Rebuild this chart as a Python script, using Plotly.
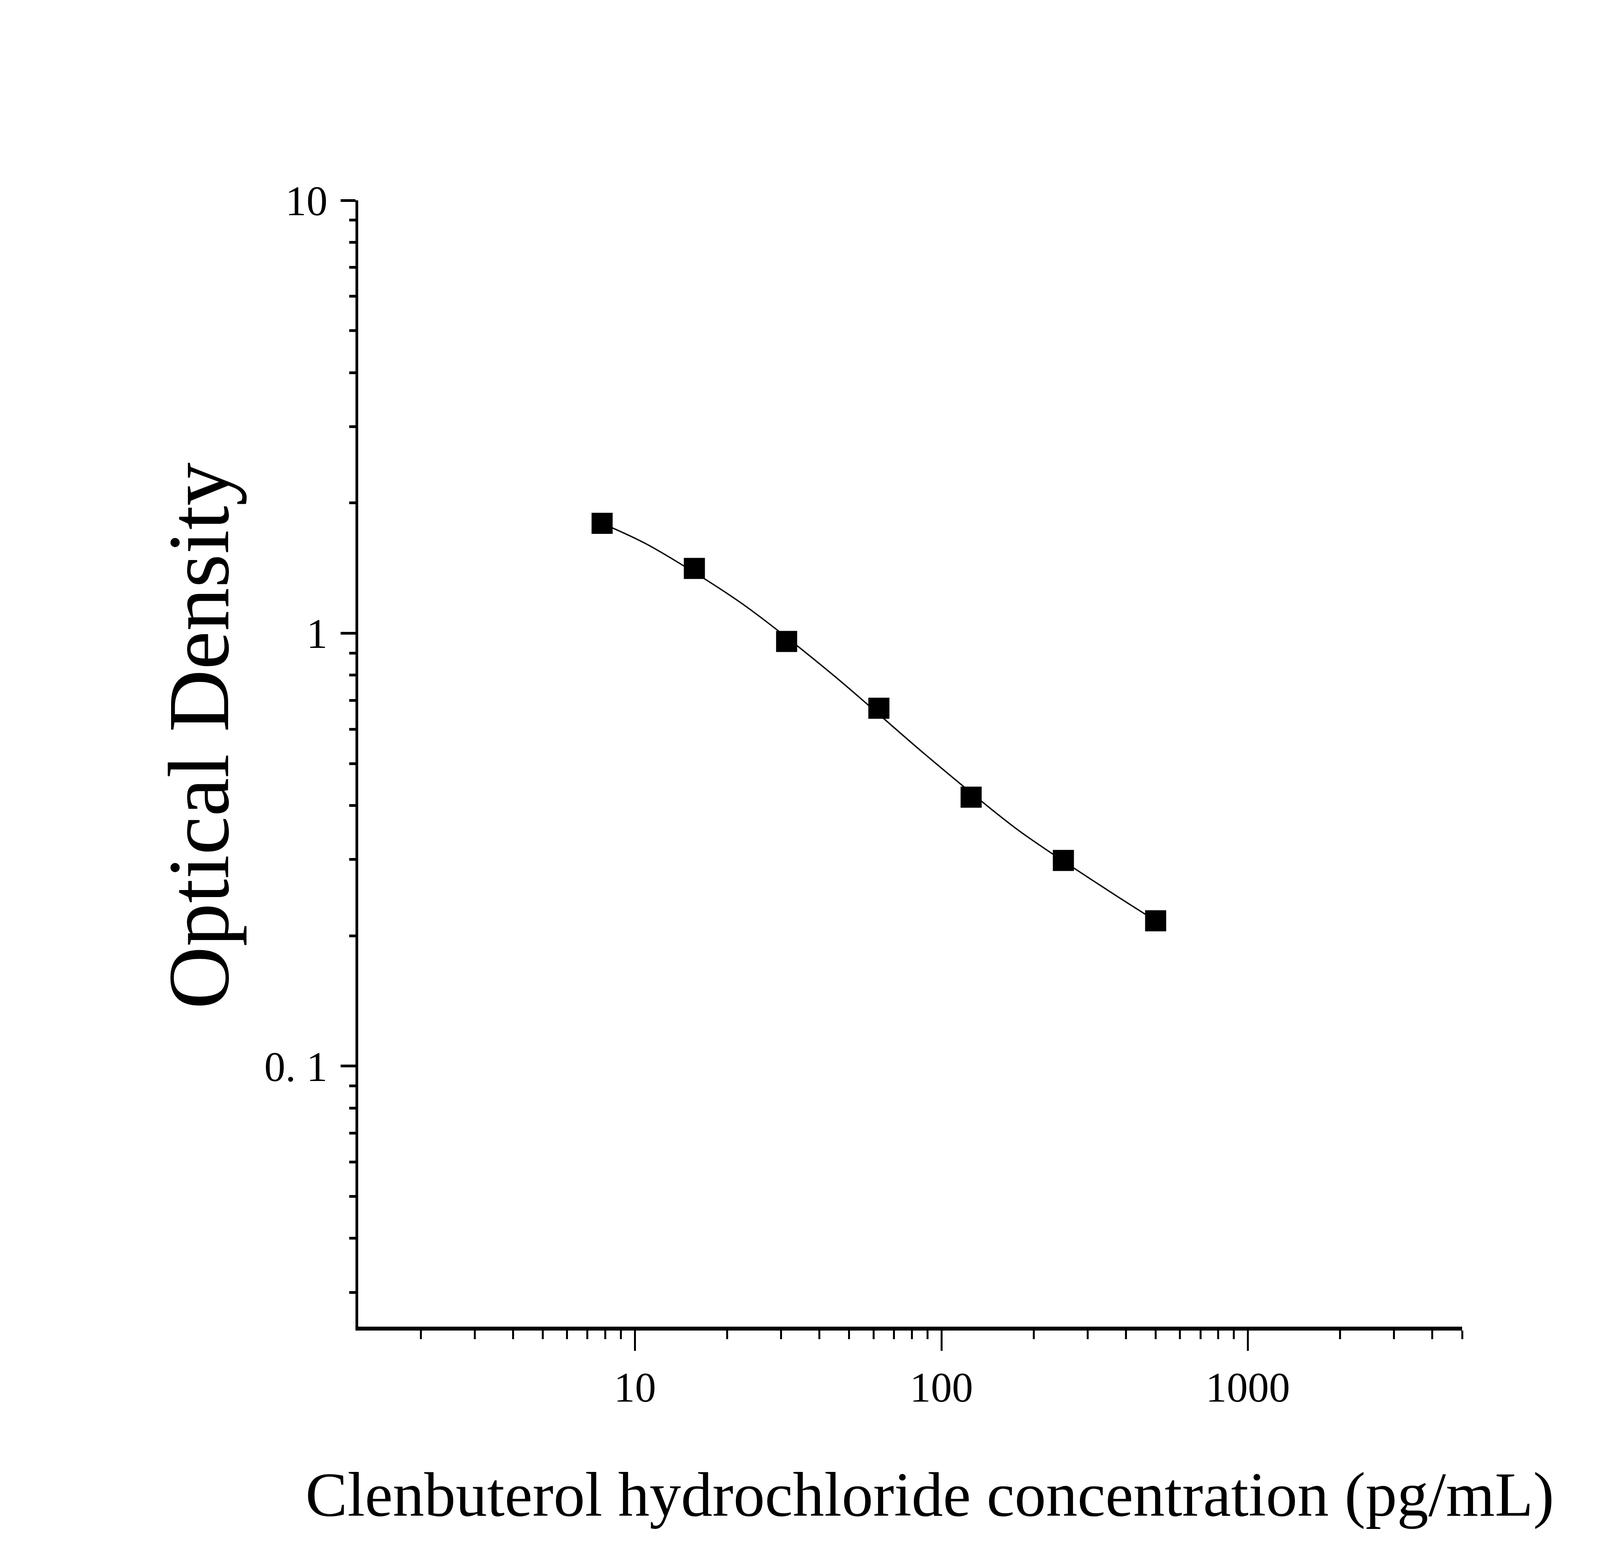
import math

import plotly.graph_objects as go

# ── Data ──────────────────────────────────────────────────────────────────
# standards (markers)
concentration = [7.8125, 15.625, 31.25, 62.5, 125, 250, 500]
optical_density = [1.794, 1.411, 0.957, 0.671, 0.418, 0.2985, 0.2166]

# fitted curve (ends + points between standards)
curve_conc = [7.8125, 11.05, 22.1, 44.2, 88.4, 176.8, 353.6, 500]
curve_od = [1.794, 1.599, 1.177, 0.802, 0.525, 0.352, 0.2532, 0.2166]

x_tickvals = [10, 100, 1000]
x_ticktext = ["10", "100", "1000"]
y_tickvals = [0.1, 1, 10]
y_ticktext = ["0. 1", "1", "10"]

x_title = "Clenbuterol hydrochloride concentration (pg/mL)"
y_title = "Optical Density"

FONT = "Liberation Serif, Times New Roman, serif"

# the browser viewport is capped at 4096 px wide, so the page is laid out
# for 4096 x 4015 with the reference proportions kept
W, H = 4096, 4015

fig = go.Figure()

# fitted curve
fig.add_trace(
    go.Scatter(
        x=curve_conc, y=curve_od,
        mode="lines",
        line=dict(color="black", width=3.5, shape="spline", smoothing=0.8),
        hoverinfo="skip",
        showlegend=False,
    )
)

# standards
fig.add_trace(
    go.Scatter(
        x=concentration, y=optical_density,
        mode="markers",
        marker=dict(symbol="square", size=54, color="black"),
        showlegend=False,
    )
)

axis_common = dict(
    type="log",
    showgrid=False,
    zeroline=False,
    showline=True,
    linecolor="black",
    ticks="outside",
    tickcolor="black",
    tickmode="array",
    automargin=False,
    tickfont=dict(family=FONT, size=108, color="black"),
)

fig.update_xaxes(
    **axis_common,
    range=[math.log10(1.25), math.log10(5000)],
    tickvals=x_tickvals, ticktext=x_ticktext,
    linewidth=10, ticklen=52, tickwidth=5,
    minor=dict(dtick="D1", ticks="outside", ticklen=22, tickwidth=5,
               tickcolor="black", showgrid=False),
    ticklabelstandoff=0,
)
fig.update_yaxes(
    **axis_common,
    range=[math.log10(0.025), 1],
    tickvals=y_tickvals, ticktext=y_ticktext,
    linewidth=7, ticklen=38, tickwidth=7,
    minor=dict(dtick="D1", ticks="outside", ticklen=16, tickwidth=7,
               tickcolor="black", showgrid=False),
    ticklabelstandoff=12,
)

# axis titles
fig.add_annotation(
    text=x_title, xref="paper", yref="paper",
    x=0.518, y=-0.149, xanchor="center", yanchor="middle",
    showarrow=False, font=dict(family=FONT, size=161, color="black"),
)
fig.add_annotation(
    text=y_title, xref="paper", yref="paper",
    x=-0.1445, y=0.5246, xanchor="center", yanchor="middle",
    textangle=-90,
    showarrow=False, font=dict(family=FONT, size=222, color="black"),
)

fig.update_layout(
    width=W,
    height=H,
    margin=dict(l=917, r=353, t=513, b=618),
    paper_bgcolor="white",
    plot_bgcolor="white",
    showlegend=False,
)

fig.write_html(
    "out.html",
    config={"displayModeBar": False},
    post_script="document.body.style.margin = '0';",
)
